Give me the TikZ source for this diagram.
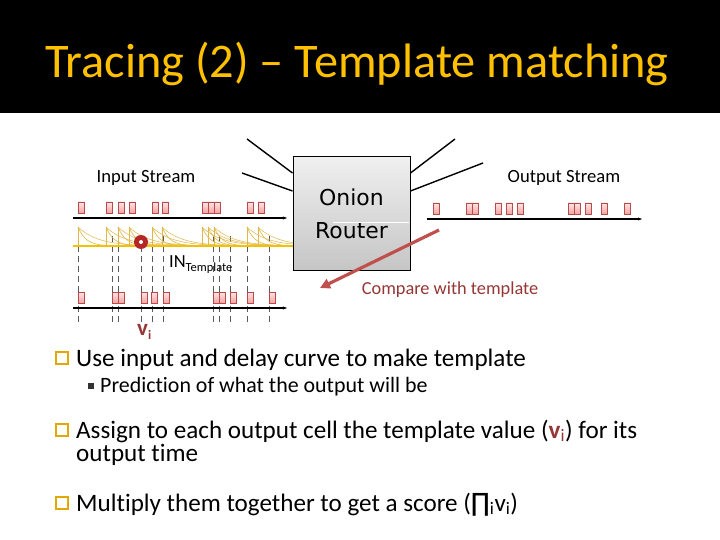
\documentclass[tikz,border=0pt]{standalone}
\usepackage{fontspec}
\setmainfont{Carlito}[Ligatures=NoCommon]
\newfontfamily\dejavu{DejaVu Sans}
\usetikzlibrary{arrows.meta,calc}
\definecolor{titley}{HTML}{FFC000}
\definecolor{vred}{HTML}{953735}
\definecolor{arrred}{HTML}{C0504D}
\definecolor{celldraw}{HTML}{B84A4A}
\definecolor{celltop}{HTML}{FFE6E6}
\definecolor{cellbot}{HTML}{F3A3A3}
\definecolor{ybase}{HTML}{F2C200}
\definecolor{ycurve}{HTML}{E0B84A}
\definecolor{bullety}{HTML}{E0A800}
\tikzset{
  cell/.style={draw=celldraw, line width=0.7bp, top color=celltop, bottom color=cellbot},
  streamline/.style={line width=2bp, -{Stealth[length=4bp,width=3bp]}},
  curve/.style={ycurve, line width=0.6bp},
  dashv/.style={gray!70!black, line width=0.7bp, dash pattern=on 6bp off 4bp},
  routerline/.style={line width=1.4bp},
  txt/.style={inner sep=0, anchor=base west},
  bulletbox/.style={draw=bullety, line width=1.3bp, minimum size=12bp, inner sep=0, fill=white},
}
\begin{document}
\begin{tikzpicture}[x=1bp,y=-1bp]
\useasboundingbox (0,0) rectangle (720,540);
\fill[white] (0,0) rectangle (720,540);
\fill[black] (0,0) rectangle (720,113);
\node[txt, text=titley, font=\fontsize{48.5}{52}\selectfont] (title) at (45,78) {Tracing (2) – Template matching};

% dashed guide lines
\foreach \a in {78,112,118,141,152,163,213,219,230,247,269}
  \draw[dashv] (\a,236) -- (\a,322);

% input cells
\foreach \a in {78,106,118,129,152,162,202,208,214,247,258}
  \draw[cell] (\a,202) rectangle ++(6,11);
% lower output cells
\foreach \a in {78,112,118,141,151,163,213,219,230,247,269}
  \draw[cell] (\a,292) rectangle ++(6,11);
% right output cells
\foreach \a in {433,466,472,495,506,517,568,574,585,601,624}
  \draw[cell] (\a,203) rectangle ++(6,11);

% template curves
\begin{scope}
\clip (70,222) rectangle (300,250);
\foreach \a in {78,106,118,129,152,162,202,208,214,247,258}{
  \draw[curve] (\a,227) -- (\a,246);
  \draw[curve] plot[domain=0:60,samples=30,smooth] ({\a+\x},{246-19*exp(-\x/8)});
  \draw[curve, line width=0.5bp] plot[domain=0:90,samples=30,smooth] ({\a+\x},{246-19*exp(-\x/20)});
}
\end{scope}
\draw[ybase, line width=1.6bp] (73,246) -- (300,246);

% stream lines
\coordinate (inS) at (73,218); \coordinate (inE) at (287,218);
\coordinate (lowS) at (73,308); \coordinate (lowE) at (287,308);
\coordinate (outS) at (427,219); \coordinate (outE) at (642,219);
\draw[streamline] (inS) -- (inE);
\draw[streamline] (lowS) -- (lowE);
\draw[streamline] (outS) -- (outE);

% marker
\node[circle, fill=vred!70!red, minimum size=14bp, inner sep=0] (mark) at (141,242) {};
\fill[white] (mark.center) circle (2bp);

% labels
\node[font=\fontsize{18.7}{20}\selectfont] (inlab) at (146,178) {Input Stream};
\node[font=\fontsize{18.7}{20}\selectfont] (outlab) at (564,178) {Output Stream};
\node[txt, font=\fontsize{18.5}{20}\selectfont] (intpl) at (169,268) {IN\raisebox{-4pt}{\fontsize{12.5}{13}\selectfont Template}};
\node[txt, text=vred, font=\bfseries\fontsize{23}{24}\selectfont] (vi) at (137,335) {v\raisebox{-5pt}{\fontsize{13}{14}\selectfont i}};

% router
\node[draw=black, line width=1bp, top color=gray!12, bottom color=gray!45, minimum width=117bp, minimum height=113bp, align=center, font=\dejavu\fontsize{22}{33}\selectfont] (router) at (351.5,213.5) {Onion\\Router};
\draw[white, line width=0.8bp] (333,222) -- (409,222);

\coordinate (l1) at (247,139);
\coordinate (l2) at (242,173);
\coordinate (r1) at (455,139);
\coordinate (r2) at (483,163);
\draw[routerline] (l1) -- ([yshift=40.5bp]router.west);
\draw[routerline] (l2) -- ([yshift=22.5bp]router.west);
\draw[routerline] ([yshift=40.5bp]router.east) -- (r1);
\draw[routerline] ([yshift=22.5bp]router.east) -- (r2);

% compare arrow
\coordinate (cmpS) at (439,230);
\coordinate (cmpE) at (320,288);
\draw[arrred, line width=3.2bp, -{Triangle[length=10bp,width=10bp]}] (cmpS) -- (cmpE);
\node[text=vred, font=\fontsize{18.4}{20}\selectfont] (cmp) at (450,290) {Compare with template};

% bullets
\node[bulletbox] (k1) at (62,358) {};
\node[bulletbox] (k2) at (62,430) {};
\node[bulletbox] (k3) at (62,503) {};
\node[fill=black!80, minimum size=6bp, inner sep=0] (k1a) at (91,386) {};

\node[txt, font=\fontsize{25.2}{28}\selectfont] (b1) at (76,366) {Use input and delay curve to make template};
\node[txt, font=\fontsize{22}{24}\selectfont] (b1a) at (100,392) {Prediction of what the output will be};
\node[txt, font=\fontsize{25.2}{28}\selectfont] (b2) at (76,438) {Assign to each output cell the template value (\textcolor{vred}{\textbf{v}\textsubscript{i}}) for its};
\node[txt, font=\fontsize{25.2}{28}\selectfont] (b2b) at (76,461) {output time};
\node[txt, font=\fontsize{25.2}{28}\selectfont] (b3) at (76,511) {Multiply them together to get a score ({\dejavu ∏}\textsubscript{i}v\textsubscript{i})};
\end{tikzpicture}
\end{document}
